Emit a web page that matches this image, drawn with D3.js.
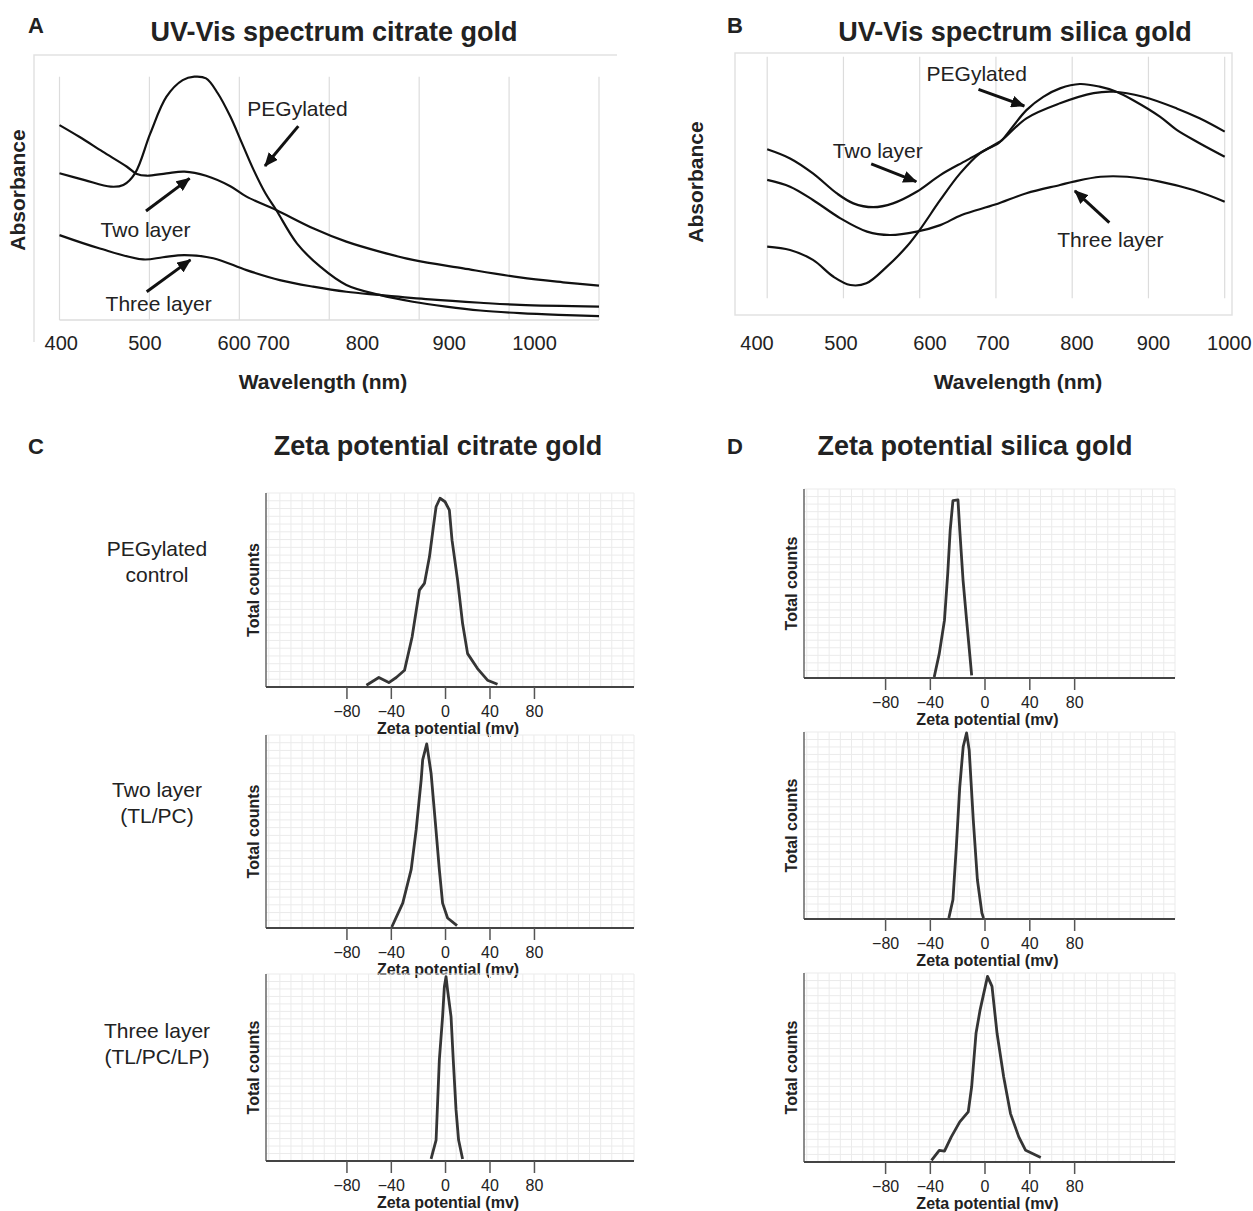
<!DOCTYPE html>
<html>
<head>
<meta charset="utf-8">
<script src="https://cdn.jsdelivr.net/npm/d3@7"></script>
<style>
  body { margin: 0; background: #fff; }
  svg { font-family: "Liberation Sans", Arial, Helvetica, sans-serif; }
</style>
</head>
<body>
<svg class="chart" width="1253" height="1211"></svg>
<script>
// ---- UV-Vis data (wavelength nm, relative absorbance) ----
const wlGrid = [400, 500, 600, 700, 800, 900, 1000]

const citrateTickText = ['400', '500', '600 700', '800', '900', '1000']
const citrateTickAt = [402, 495, 616, 737, 833.5, 928.3]
const silicaTickText = ['400', '500', '600', '700', '800', '900', '1000']
const silicaTickAt = [386.6, 496.8, 613.5, 696.1, 806.3, 906.7, 1006]

const citratePeg = [
  [400, 0.603], [428, 0.575], [457, 0.548], [471, 0.555], [484, 0.603], [501, 0.767],
  [519, 0.918], [537, 0.986], [550, 1.0], [563, 0.993], [576, 0.932], [590, 0.836],
  [603, 0.726], [616, 0.616], [629, 0.521], [641, 0.452], [664, 0.315], [690, 0.219],
  [719, 0.144], [756, 0.103], [793, 0.075], [830, 0.055], [868, 0.039], [912, 0.028],
  [955, 0.021], [1000, 0.016]
]
const citrateTwo = [
  [400, 0.801], [422, 0.753], [448, 0.692], [475, 0.630], [486, 0.600], [497, 0.593],
  [519, 0.603], [539, 0.610], [563, 0.593], [590, 0.550], [608, 0.507], [641, 0.452],
  [682, 0.377], [719, 0.322], [756, 0.281], [793, 0.247], [849, 0.212], [912, 0.175],
  [960, 0.155], [1000, 0.141]
]
const citrateThree = [
  [400, 0.349], [444, 0.295], [493, 0.249], [515, 0.258], [539, 0.267], [571, 0.254],
  [608, 0.205], [645, 0.164], [682, 0.137], [719, 0.116], [756, 0.103], [812, 0.085],
  [868, 0.071], [912, 0.062], [1000, 0.055]
]

const silicaPeg = [
  [400, 0.214], [430, 0.200], [460, 0.159], [487, 0.089], [509, 0.055], [530, 0.062],
  [557, 0.131], [583, 0.214], [600, 0.283], [627, 0.407], [653, 0.517], [679, 0.600],
  [703, 0.641], [708, 0.655], [740, 0.779], [762, 0.834], [784, 0.869], [810, 0.887],
  [836, 0.876], [858, 0.855], [880, 0.820], [915, 0.752], [937, 0.697], [967, 0.642],
  [1000, 0.586]
]
const silicaTwo = [
  [400, 0.617], [430, 0.579], [460, 0.517], [491, 0.435], [513, 0.393], [539, 0.377],
  [565, 0.393], [596, 0.441], [627, 0.510], [662, 0.572], [701, 0.641], [708, 0.655],
  [740, 0.745], [784, 0.807], [828, 0.849], [854, 0.855], [893, 0.834], [937, 0.786],
  [967, 0.745], [1000, 0.690]
]
const silicaThree = [
  [400, 0.490], [430, 0.462], [460, 0.407], [496, 0.331], [531, 0.276], [561, 0.262],
  [596, 0.276], [627, 0.303], [655, 0.345], [699, 0.388], [740, 0.435], [784, 0.469],
  [802, 0.483], [837, 0.503], [872, 0.503], [915, 0.483], [959, 0.448], [1000, 0.400]
]

// ---- Zeta potential data (mV, relative counts %) ----
const zetaTicks = [-80, -40, 0, 40, 80]

const zetaCitratePeg = [
  [-62, 0.9], [-50.8, 4.9], [-41.8, 2.3], [-36, 4.9], [-29.9, 8.6], [-24.3, 25.8],
  [-18.9, 49.9], [-15.2, 53.4], [-11.5, 67.1], [-8.6, 82.6], [-6.6, 92.9], [-3.7, 97.3],
  [0, 95.5], [3.9, 91.2], [6.3, 75.7], [11.3, 55.1], [15.8, 32.7], [20.3, 17.2],
  [29.2, 9.5], [38.2, 3.5], [47.2, 1.4]
]
const zetaCitrateTwo = [
  [-39.3, 0.5], [-31.2, 12.9], [-25, 30.2], [-21.3, 50.9], [-17.6, 76.8], [-16.5, 87.1],
  [-13.5, 95.4], [-10.3, 80.2], [-7.1, 54.3], [-4.2, 30.2], [-1.8, 12.9], [2.3, 5.2],
  [10.8, 1.2]
]
const zetaCitrateThree = [
  [-10.3, 1.1], [-6.6, 11.2], [-4.2, 54], [-1.8, 77.2], [-0.5, 93.2], [0.9, 98.6],
  [2.3, 91.4], [5.4, 77.2], [7.4, 54], [9.9, 27.3], [12.2, 11.2], [15.8, 1.1]
]
const zetaSilicaPeg = [
  [-36.8, 0.5], [-33.1, 12.9], [-29.3, 30.6], [-26.9, 55.3], [-25.1, 78.3], [-23.1, 93.8],
  [-19.4, 94.2], [-18.1, 78.3], [-15.7, 51.8], [-13.1, 30.6], [-10.6, 11.1], [-9.4, 1.4]
]
const zetaSilicaTwo = [
  [-26.1, 0.5], [-23.1, 10.3], [-20.6, 38.7], [-18.1, 70.7], [-15.6, 92.1], [-13.1, 99.5],
  [-11.2, 90.3], [-8.2, 52.9], [-5.2, 21], [-1.9, 3.2], [-0.7, 0.5]
]
const zetaSilicaThree = [
  [-38.8, 0.9], [-33.1, 6.2], [-29.3, 5.8], [-24.3, 13.3], [-18.1, 21.2], [-11.9, 26.5],
  [-9.4, 39.8], [-6.2, 68.1], [-3.2, 80.5], [2.7, 98.2], [6.7, 92.9], [11.2, 68.1],
  [17.1, 45.1], [23.2, 25.6], [30.6, 13.3], [36.7, 6.2], [50.2, 2.4]
]

const rowLabels = [['PEGylated', 'control'], ['Two layer', '(TL/PC)'], ['Three layer', '(TL/PC/LP)']]

// ---- layout ----
const svg = d3.select('.chart')
const font = 'Liberation Sans, Arial, Helvetica, sans-serif'

svg.append('defs')
  .append('marker')
  .attr('id', 'head')
  .attr('viewBox', '0 0 14 12')
  .attr('refX', 13)
  .attr('refY', 6)
  .attr('markerWidth', 14)
  .attr('markerHeight', 12)
  .attr('markerUnits', 'userSpaceOnUse')
  .attr('orient', 'auto')
  .append('path')
  .attr('d', 'M0,0 L14,6 L0,12 Z')
  .attr('fill', '#111')

function text(g, x, y, str, size, weight, anchor = 'middle') {
  return g.append('text')
    .attr('x', x)
    .attr('y', y)
    .attr('dy', '0.35em')
    .attr('font-size', size)
    .attr('font-weight', weight)
    .attr('text-anchor', anchor)
    .attr('fill', '#222')
    .text(str)
}

function drawUV(p) {
  const g = svg.append('g')
  const x = d3.scaleLinear().domain([400, 1000]).range([p.left, p.right])
  const y = d3.scaleLinear().domain([0, 1]).range([p.bottom, p.top])

  // light chart frame
  if (p.frame.full) {
    g.append('rect')
      .attr('x', p.frame.x0).attr('y', p.frame.y0)
      .attr('width', p.frame.x1 - p.frame.x0).attr('height', p.frame.y1 - p.frame.y0)
      .attr('fill', 'none').attr('stroke', '#e2e2e2').attr('stroke-width', 1.5)
  } else {
    g.append('path')
      .attr('d', `M${p.frame.x0},${p.frame.y1}V${p.frame.y0}H${p.frame.x1}`)
      .attr('fill', 'none').attr('stroke', '#e2e2e2').attr('stroke-width', 1.5)
  }

  g.append('g')
    .selectAll('line')
    .data(wlGrid)
    .join('line')
    .attr('x1', d => x(d)).attr('x2', d => x(d))
    .attr('y1', p.top).attr('y2', p.bottom)
    .attr('stroke', '#dcdcdc')
    .attr('stroke-width', 1.2)

  if (p.baseLine) {
    g.append('line')
      .attr('x1', p.left).attr('x2', p.right)
      .attr('y1', p.bottom).attr('y2', p.bottom)
      .attr('stroke', '#dcdcdc').attr('stroke-width', 1.5)
  }

  // tick labels (as printed on the figure)
  g.append('g')
    .selectAll('text')
    .data(p.tickText)
    .join('text')
    .attr('x', (d, i) => x(p.tickAt[i]))
    .attr('y', 343)
    .attr('dy', '0.35em')
    .attr('text-anchor', 'middle')
    .attr('font-size', 20)
    .attr('fill', '#222')
    .text(d => d)

  const line = d3.line()
    .x(d => x(d[0]))
    .y(d => y(d[1]))
    .curve(d3.curveCatmullRom.alpha(0.5))

  g.append('g')
    .selectAll('path')
    .data(p.series)
    .join('path')
    .attr('d', line)
    .attr('fill', 'none')
    .attr('stroke', '#111')
    .attr('stroke-width', 2.2)

  // annotations
  p.notes.forEach(n => {
    text(g, x(n.at[0]), y(n.at[1]), n.label, 21, 'normal')
    g.append('line')
      .attr('x1', x(n.from[0])).attr('y1', y(n.from[1]))
      .attr('x2', x(n.to[0])).attr('y2', y(n.to[1]))
      .attr('stroke', '#111')
      .attr('stroke-width', 3)
      .attr('marker-end', 'url(#head)')
  })

  text(g, p.letterX, 25, p.letter, 22, 'bold', 'start')
  text(g, p.titleX, 32, p.title, 27, 'bold')
  text(g, p.xLabelX, 382, 'Wavelength (nm)', 21, 'bold')
  text(g, 0, 0, 'Absorbance', 21, 'bold')
    .attr('transform', `translate(${p.yLabelX},${p.yLabelY}) rotate(-90)`)
}

drawUV({
  letter: 'A', letterX: 28, title: 'UV-Vis spectrum citrate gold', titleX: 334,
  left: 59.5, right: 599, top: 76.7, bottom: 320, baseLine: true,
  frame: { x0: 34, x1: 617, y0: 55, y1: 342, full: false },
  tickText: citrateTickText, tickAt: citrateTickAt,
  series: [citratePeg, citrateTwo, citrateThree],
  xLabelX: 323, yLabelX: 18, yLabelY: 190,
  notes: [
    { label: 'PEGylated', at: [664.7, 0.870], from: [665.6, 0.797], to: [628.5, 0.633] },
    { label: 'Two layer', at: [495.7, 0.373], from: [496.2, 0.448], to: [544.7, 0.582] },
    { label: 'Three layer', at: [510.3, 0.066], from: [497, 0.116], to: [545.6, 0.247] }
  ]
})

drawUV({
  letter: 'B', letterX: 727, title: 'UV-Vis spectrum silica gold', titleX: 1015,
  left: 767.2, right: 1224.7, top: 56.7, bottom: 298.3, baseLine: false,
  frame: { x0: 735, x1: 1232, y0: 53, y1: 315, full: true },
  tickText: silicaTickText, tickAt: silicaTickAt,
  series: [silicaPeg, silicaTwo, silicaThree],
  xLabelX: 1018, yLabelX: 696, yLabelY: 182,
  notes: [
    { label: 'PEGylated', at: [674.8, 0.928], from: [677.1, 0.865], to: [737.2, 0.796] },
    { label: 'Two layer', at: [545, 0.611], from: [536.4, 0.556], to: [595.5, 0.483] },
    { label: 'Three layer', at: [850.1, 0.244], from: [848.7, 0.313], to: [803.5, 0.445] }
  ]
})

// ---- zeta potential panels ----
function drawZeta(p) {
  const g = svg.append('g')
  // the scanned axis is slightly uneven between -40 and 0
  const x = d3.scaleLinear()
    .domain([-152.5, -40, 0, 170])
    .range([p.x0, p.x0 + 0.3392 * p.w, p.x0 + 0.4865 * p.w, p.x0 + p.w])
  const y = d3.scaleLinear().domain([0, 100]).range([p.base, p.top])

  // faint background grid
  g.append('g')
    .selectAll('line')
    .data(d3.range(-150, 171, 10))
    .join('line')
    .attr('x1', d => x(d)).attr('x2', d => x(d))
    .attr('y1', p.top).attr('y2', p.base)
    .attr('stroke', '#ebebeb').attr('stroke-width', 1)
  g.append('g')
    .selectAll('line')
    .data(d3.range(4, 101, 4))
    .join('line')
    .attr('x1', p.x0).attr('x2', p.x0 + p.w)
    .attr('y1', d => y(d)).attr('y2', d => y(d))
    .attr('stroke', '#ebebeb').attr('stroke-width', 1)

  // y axis (no ticks)
  g.append('line')
    .attr('x1', p.x0).attr('x2', p.x0)
    .attr('y1', p.top).attr('y2', p.base)
    .attr('stroke', '#666').attr('stroke-width', 1.5)

  // x axis
  g.append('g')
    .attr('transform', `translate(0,${p.base})`)
    .call(d3.axisBottom(x).tickValues(zetaTicks).tickSize(12).tickPadding(7)
      .tickFormat(d => d3.format('')(d).replace('-', '\u2212')))
    .call(a => a.select('.domain')
      .attr('d', `M${p.x0},0H${p.x0 + p.w}`)
      .attr('stroke', '#444').attr('stroke-width', 2))
    .call(a => a.selectAll('.tick line').attr('stroke', '#555').attr('stroke-width', 1.5))
    .call(a => a.selectAll('.tick text')
      .attr('font-size', 16).attr('font-family', font).attr('fill', '#222'))

  text(g, x(0) + 3, p.base + 41.5, 'Zeta potential (mv)', 16, 'bold')
  text(g, 0, 0, 'Total counts', 16, 'bold')
    .attr('transform', `translate(${p.x0 - 13},${(p.top + p.base) / 2}) rotate(-90)`)

  g.append('path')
    .datum(p.data)
    .attr('d', d3.line().x(d => x(d[0])).y(d => y(d[1])))
    .attr('fill', 'none')
    .attr('stroke', '#353535')
    .attr('stroke-width', 2.8)
    .attr('stroke-linejoin', 'round')
}

const citrateRows = [[493, 687], [735, 928], [974, 1161]]
const silicaRows = [[489, 678], [732, 919], [973, 1162]]
const citrateZeta = [zetaCitratePeg, zetaCitrateTwo, zetaCitrateThree]
const silicaZeta = [zetaSilicaPeg, zetaSilicaTwo, zetaSilicaThree]

citrateRows.forEach((r, i) => drawZeta({ x0: 266, w: 368, top: r[0], base: r[1], data: citrateZeta[i] }))
silicaRows.forEach((r, i) => drawZeta({ x0: 804, w: 371, top: r[0], base: r[1], data: silicaZeta[i] }))

const labels = svg.append('g')
const rowLabelY = [549, 790, 1031]
rowLabels.forEach((l, i) => {
  text(labels, 157, rowLabelY[i], l[0], 21, 'normal')
  text(labels, 157, rowLabelY[i] + 26, l[1], 21, 'normal')
})

text(labels, 28, 446, 'C', 22, 'bold', 'start')
text(labels, 438, 446, 'Zeta potential citrate gold', 27, 'bold')
text(labels, 727, 446, 'D', 22, 'bold', 'start')
text(labels, 975, 446, 'Zeta potential silica gold', 27, 'bold')
</script>
</body>
</html>
